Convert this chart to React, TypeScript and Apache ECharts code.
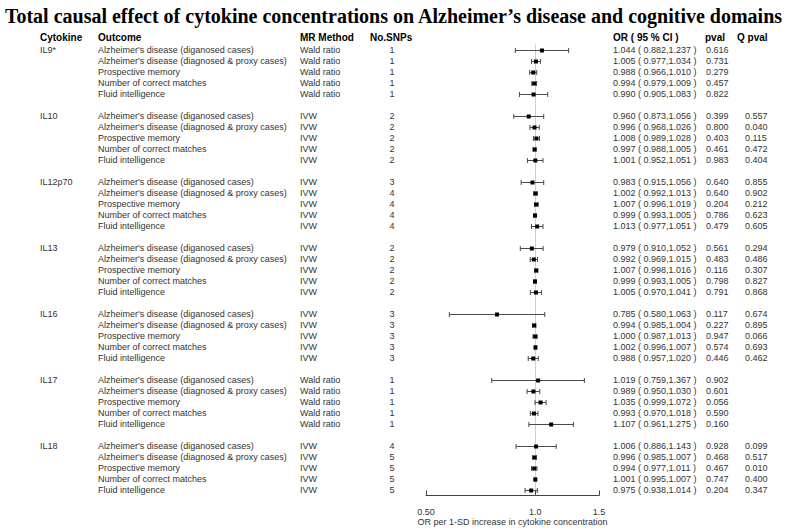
import React, { useEffect, useRef } from 'react';
import * as echarts from 'echarts';

const titleText = "Total causal effect of cytokine concentrations on Alzheimer\u2019s disease and cognitive domains";
const cytokines = ['IL9*', 'IL10', 'IL12p70', 'IL13', 'IL16', 'IL17', 'IL18'];
const outcomes = [
  "Alzheimer's disease (diganosed cases)",
  "Alzheimer's disease (diagnosed & proxy cases)",
  'Prospective memory',
  'Number of correct matches',
  'Fluid intelligence',
];
const methods = ['Wald ratio', 'IVW', 'IVW', 'IVW', 'IVW', 'Wald ratio', 'IVW'];
const nSNPs = [
  [1, 1, 1, 1, 1],
  [2, 2, 2, 2, 2],
  [3, 4, 4, 4, 4],
  [2, 2, 2, 2, 2],
  [3, 3, 3, 3, 3],
  [1, 1, 1, 1, 1],
  [4, 5, 5, 5, 5],
];
const orValues = [
  [1.044, 1.005, 0.988, 0.994, 0.990],
  [0.960, 0.996, 1.008, 0.997, 1.001],
  [0.983, 1.002, 1.007, 0.999, 1.013],
  [0.979, 0.992, 1.007, 0.999, 1.005],
  [0.785, 0.994, 1.000, 1.002, 0.988],
  [1.019, 0.989, 1.035, 0.993, 1.107],
  [1.006, 0.996, 0.994, 1.001, 0.975],
];
const lowerCI = [
  [0.882, 0.977, 0.966, 0.979, 0.905],
  [0.873, 0.968, 0.989, 0.988, 0.952],
  [0.915, 0.992, 0.996, 0.993, 0.977],
  [0.910, 0.969, 0.998, 0.993, 0.970],
  [0.580, 0.985, 0.987, 0.996, 0.957],
  [0.759, 0.950, 0.999, 0.970, 0.961],
  [0.886, 0.985, 0.977, 0.995, 0.938],
];
const upperCI = [
  [1.237, 1.034, 1.010, 1.009, 1.083],
  [1.056, 1.026, 1.028, 1.005, 1.051],
  [1.056, 1.013, 1.019, 1.005, 1.051],
  [1.052, 1.015, 1.016, 1.005, 1.041],
  [1.063, 1.004, 1.013, 1.007, 1.020],
  [1.367, 1.030, 1.072, 1.018, 1.275],
  [1.143, 1.007, 1.011, 1.007, 1.014],
];
const pvals = [
  ['0.616', '0.731', '0.279', '0.457', '0.822'],
  ['0.399', '0.800', '0.403', '0.461', '0.983'],
  ['0.640', '0.640', '0.204', '0.786', '0.479'],
  ['0.561', '0.483', '0.116', '0.798', '0.791'],
  ['0.117', '0.227', '0.947', '0.574', '0.446'],
  ['0.902', '0.601', '0.056', '0.590', '0.160'],
  ['0.928', '0.468', '0.467', '0.747', '0.204'],
];
const qpvals = [
  ['', '', '', '', ''],
  ['0.557', '0.040', '0.115', '0.472', '0.404'],
  ['0.855', '0.902', '0.212', '0.623', '0.605'],
  ['0.294', '0.486', '0.307', '0.827', '0.868'],
  ['0.674', '0.895', '0.066', '0.693', '0.462'],
  ['', '', '', '', ''],
  ['0.099', '0.517', '0.010', '0.400', '0.347'],
];
const xTicks = [0.5, 1.0, 1.5];
const xTickLabels = ['0.50', '1.0', '1.5'];
const headers = ['Cytokine', 'Outcome', 'MR Method', 'No.SNPs', 'OR ( 95 % CI )', 'pval', 'Q pval'];
const xAxisTitle = 'OR per 1-SD increase in cytokine concentration';

const SANS = '"Liberation Sans", Arial, sans-serif';
const headerX = [40, 98, 300, 370, 613, 705, 737];
const colX = { cyt: 40, out: 98, method: 300, snp: 392, or: 613, p: 706, q: 745 };

function txt(text: string, x: number, y: number, opts: any = {}) {
  const align = opts.align || 'left';
  return {
    type: 'text',
    x,
    y,
    silent: true,
    style: {
      text,
      fill: opts.fill || '#333',
      fontSize: opts.fontSize || 9,
      fontFamily: SANS,
      fontWeight: opts.fontWeight || 'normal',
      align,
      textAlign: align,
      verticalAlign: 'middle',
      textVerticalAlign: 'middle',
    },
  };
}

export default function App() {
  const ref = useRef<HTMLDivElement>(null);
  useEffect(() => {
    if (!ref.current) return;
    const chart = echarts.init(ref.current, null, { renderer: 'svg' });

    const rows: any[] = [];
    cytokines.forEach((c, g) => {
      outcomes.forEach((o, k) => {
        rows.push({ g, k, row: g * 6 + k });
      });
    });

    const tableData = rows.map((r) => [1, r.row, r.g, r.k]);
    const forestData = rows.map((r) => [orValues[r.g][r.k], lowerCI[r.g][r.k], upperCI[r.g][r.k], r.row]);
    const tickData = xTicks.map((v, i) => [v, 40.5, i]);

    const option: any = {
      animation: false,
      title: {
        text: titleText,
        left: 'center',
        top: 1,
        textStyle: { fontFamily: '"Liberation Serif", "Times New Roman", serif', fontWeight: 'bold', fontSize: 20, color: '#000' },
      },
      graphic: headers.map((h, i) => txt(h, headerX[i], 37, { fontWeight: 'bold', fontSize: 10, fill: '#000' })),
      grid: { left: 426, width: 173, top: 44.5, height: 451, outerBoundsMode: 'none', containLabel: false },
      xAxis: {
        type: 'log',
        logBase: 10,
        min: 0.5,
        max: 1.5,
        axisLine: { show: true, onZero: false, lineStyle: { color: '#444', width: 1 } },
        axisTick: { show: false },
        axisLabel: { show: false },
        splitLine: { show: false },
        name: xAxisTitle,
        nameLocation: 'middle',
        nameGap: 22,
        nameTextStyle: { fontSize: 9, color: '#333', fontFamily: SANS },
      },
      yAxis: {
        type: 'value',
        min: -0.5,
        max: 40.5,
        inverse: true,
        show: false,
        splitLine: { show: false },
      },
      series: [
        {
          type: 'custom',
          name: 'ref',
          clip: false,
          silent: true,
          data: [[1, -0.5]],
          encode: { x: 0, y: 1 },
          renderItem: (params: any, api: any) => {
            const a = api.coord([1, -0.5]);
            const b = api.coord([1, 40.5]);
            return {
              type: 'line',
              shape: { x1: Math.round(a[0]) + 0.5, y1: a[1], x2: Math.round(b[0]) + 0.5, y2: b[1] },
              style: { stroke: '#cfcfcf', lineWidth: 1 },
            };
          },
        },
        {
          type: 'custom',
          name: 'forest',
          clip: false,
          silent: true,
          data: forestData,
          encode: { x: [0, 1, 2], y: 3 },
          renderItem: (params: any, api: any) => {
            const row = api.value(3);
            const p = api.coord([api.value(0), row]);
            const l = api.coord([api.value(1), row]);
            const u = api.coord([api.value(2), row]);
            const y = Math.round(p[1]) + 0.5;
            const stroke = '#4a4a4a';
            return {
              type: 'group',
              children: [
                { type: 'line', shape: { x1: l[0], y1: y, x2: u[0], y2: y }, style: { stroke, lineWidth: 1 } },
                { type: 'line', shape: { x1: l[0], y1: y - 2.5, x2: l[0], y2: y + 2.5 }, style: { stroke, lineWidth: 1 } },
                { type: 'line', shape: { x1: u[0], y1: y - 2.5, x2: u[0], y2: y + 2.5 }, style: { stroke, lineWidth: 1 } },
                { type: 'rect', shape: { x: p[0] - 2, y: y - 2, width: 4, height: 4 }, style: { fill: '#000' } },
              ],
            };
          },
        },
        {
          type: 'custom',
          name: 'table',
          clip: false,
          silent: true,
          data: tableData,
          encode: { x: 0, y: 1 },
          renderItem: (params: any, api: any) => {
            const row = api.value(1);
            const g = api.value(2);
            const k = api.value(3);
            const y = api.coord([1, row])[1];
            const children: any[] = [];
            if (k === 0) children.push(txt(cytokines[g], colX.cyt, y));
            children.push(txt(outcomes[k], colX.out, y));
            children.push(txt(methods[g], colX.method, y));
            children.push(txt(String(nSNPs[g][k]), colX.snp, y, { align: 'center' }));
            const orStr = `${orValues[g][k].toFixed(3)} ( ${lowerCI[g][k].toFixed(3)},${upperCI[g][k].toFixed(3)} )`;
            children.push(txt(orStr, colX.or, y));
            children.push(txt(pvals[g][k], colX.p, y));
            if (qpvals[g][k]) children.push(txt(qpvals[g][k], colX.q, y));
            return { type: 'group', children };
          },
        },
        {
          type: 'custom',
          name: 'ticks',
          clip: false,
          silent: true,
          data: tickData,
          encode: { x: 0, y: 1 },
          renderItem: (params: any, api: any) => {
            const p = api.coord([api.value(0), api.value(1)]);
            const i = api.value(2);
            const x = Math.round(p[0]) + 0.5;
            return {
              type: 'group',
              children: [
                { type: 'line', shape: { x1: x, y1: p[1], x2: x, y2: p[1] - 5 }, style: { stroke: '#444', lineWidth: 1 } },
                txt(xTickLabels[i], p[0], p[1] + 16, { align: 'center', fontSize: 9 }),
              ],
            };
          },
        },
      ],
    };
    chart.setOption(option);
    return () => chart.dispose();
  }, []);
  return <div ref={ref} style={{ position: 'absolute', left: 0, top: 0, width: 787, height: 529, background: '#fff' }} />;
}
